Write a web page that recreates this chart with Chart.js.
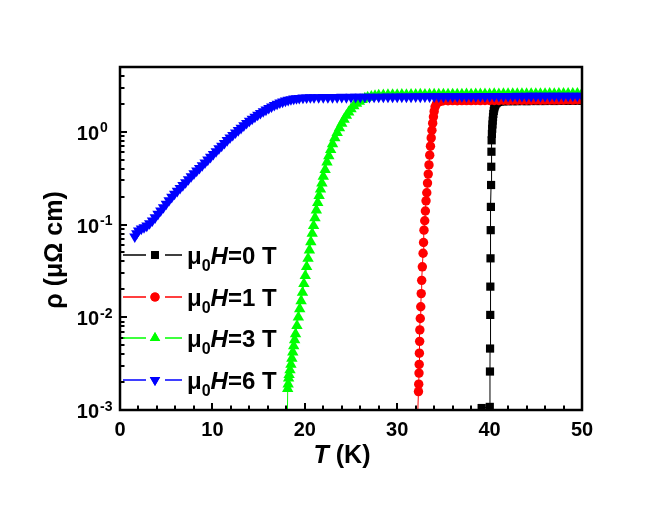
<!DOCTYPE html>
<html>
<head>
<meta charset="utf-8">
<script src="https://cdn.jsdelivr.net/npm/chart.js@4.4.1/dist/chart.umd.min.js"></script>
<style>
html,body{margin:0;padding:0;background:#fff;}
#wrap{width:648px;height:506px;position:relative;}
</style>
</head>
<body>
<div id="wrap"><canvas id="c"></canvas></div>
<script>
// ---- data: [T (K), rho (μΩ cm)] ----
const BLACK_DATA = [
[39.14,0.00105],[40.02,0.00108],[40.04,0.0026],[40.05,0.0046],[40.07,0.0106],[40.08,0.0214],[40.1,0.0432],[40.12,0.087],
[40.14,0.155],[40.16,0.267],[40.18,0.42],[40.2,0.61],[40.22,0.81],[40.25,0.95],[40.28,1.08],[40.31,1.2],[40.34,1.32],
[40.37,1.44],[40.4,1.56],[40.45,1.68],[40.5,1.79],[40.55,1.88],[40.6,1.95],[40.7,2.02],[40.8,2.07],[40.9,2.1],[41.1,2.12],
[41.5,2.13],[42,2.14],[42.5,2.14],[43,2.14],[43.5,2.15],[44,2.14],[44.5,2.15],[45,2.15],[45.5,2.15],[46,2.15],[46.5,2.16],
[47,2.15],[47.5,2.16],[48,2.16],[48.5,2.16],[49,2.16],[49.5,2.17],[50,2.17]
];
const RED_DATA = [
[32.0,0.0002],[32.3,0.00158],[32.33,0.0019],[32.36,0.0025],[32.38,0.0031],[32.4,0.0041],[32.43,0.0055],[32.45,0.0073],
[32.5,0.0097],[32.55,0.013],[32.6,0.018],[32.65,0.025],[32.72,0.035],[32.8,0.049],[32.85,0.064],[32.9,0.087],[32.98,0.11],
[33.05,0.14],[33.12,0.18],[33.2,0.22],[33.28,0.28],[33.36,0.35],[33.44,0.44],[33.52,0.56],[33.6,0.7],[33.68,0.86],
[33.76,1.04],[33.84,1.24],[33.92,1.45],[34.0,1.66],[34.1,1.86],[34.25,2.0],[34.4,2.08],[34.6,2.13],[34.8,2.15],[35,2.16],
[35.5,2.16],[36,2.17],[36.5,2.16],[37,2.17],[37.5,2.17],[38,2.17],[38.5,2.18],[39,2.17],[39.5,2.18],[40,2.18],[40.5,2.18],
[41,2.18],[41.5,2.19],[42,2.18],[42.5,2.19],[43,2.19],[43.5,2.19],[44,2.19],[44.5,2.19],[45,2.2],[45.5,2.19],[46,2.2],
[46.5,2.2],[47,2.2],[47.5,2.2],[48,2.2],[48.5,2.21],[49,2.2],[49.5,2.21],[50,2.21]
];
const GREEN_DATA = [
[18.05,0.0002],[18.15,0.0017],[18.2,0.0019],[18.25,0.0022],[18.3,0.0024],[18.4,0.0027],[18.5,0.0031],[18.6,0.0036],
[18.7,0.0042],[18.8,0.0049],[18.9,0.0057],[19.0,0.0066],[19.15,0.0081],[19.3,0.01],[19.45,0.0123],[19.6,0.015],
[19.75,0.0185],[19.9,0.023],[20.05,0.028],[20.2,0.035],[20.35,0.043],[20.5,0.053],[20.65,0.065],[20.8,0.08],[20.95,0.097],
[21.1,0.118],[21.25,0.143],[21.4,0.172],[21.55,0.205],[21.7,0.24],[21.85,0.28],[22.0,0.33],[22.2,0.39],[22.4,0.47],
[22.6,0.55],[22.8,0.64],[23.0,0.74],[23.25,0.86],[23.5,0.98],[23.75,1.1],[24.0,1.23],[24.25,1.36],[24.5,1.5],[24.75,1.63],
[25.0,1.76],[25.3,1.9],[25.6,2.02],[25.9,2.13],[26.2,2.22],[26.5,2.29],[26.8,2.35],[27.2,2.4],[27.6,2.44],[28.0,2.47],
[28.5,2.49],[29,2.5],[29.5,2.51],[30,2.51],[30.5,2.52],[31,2.51],[31.5,2.52],[32,2.52],[32.5,2.53],[33,2.52],[33.5,2.53],
[34,2.53],[34.5,2.53],[35,2.54],[35.5,2.53],[36,2.54],[36.5,2.54],[37,2.54],[37.5,2.55],[38,2.54],[38.5,2.55],[39,2.55],
[39.5,2.55],[40,2.55],[40.5,2.56],[41,2.55],[41.5,2.56],[42,2.56],[42.5,2.56],[43,2.56],[43.5,2.57],[44,2.56],[44.5,2.57],
[45,2.57],[45.5,2.57],[46,2.57],[46.5,2.58],[47,2.57],[47.5,2.58],[48,2.58],[48.5,2.58],[49,2.58],[49.5,2.59],[50,2.59]
];
const BLUE_DATA = [
[1.6,0.074],[1.8,0.08],[2.0,0.086],[2.3,0.09],[2.6,0.093],[2.9,0.097],[3.2,0.103],[3.5,0.11],[3.8,0.119],[4.1,0.13],
[4.4,0.141],[4.7,0.153],[5.0,0.167],[5.3,0.182],[5.6,0.198],[5.9,0.214],[6.2,0.23],[6.5,0.247],[6.8,0.265],[7.1,0.285],
[7.4,0.307],[7.7,0.33],[8.0,0.355],[8.3,0.38],[8.6,0.405],[8.9,0.435],[9.2,0.465],[9.5,0.5],[9.8,0.535],[10.1,0.575],
[10.4,0.615],[10.7,0.66],[11.0,0.705],[11.3,0.755],[11.6,0.81],[11.9,0.865],[12.2,0.92],[12.5,0.98],[12.8,1.04],
[13.1,1.1],[13.4,1.17],[13.7,1.24],[14.0,1.31],[14.3,1.38],[14.6,1.45],[14.9,1.52],[15.2,1.59],[15.5,1.66],[15.8,1.73],
[16.1,1.8],[16.4,1.87],[16.7,1.94],[17.0,2.0],[17.3,2.06],[17.6,2.11],[17.9,2.16],[18.2,2.2],[18.5,2.24],[18.8,2.27],
[19.1,2.29],[19.4,2.31],[19.8,2.33],[20.2,2.34],[20.6,2.35],[21,2.35],[21.5,2.35],[22,2.36],[22.5,2.35],[23,2.36],
[23.5,2.36],[24,2.37],[24.5,2.36],[25,2.37],[25.5,2.37],[26,2.37],[26.5,2.38],[27,2.37],[27.5,2.38],[28,2.38],[28.5,2.38],
[29,2.39],[29.5,2.38],[30,2.39],[30.5,2.39],[31,2.39],[31.5,2.39],[32,2.4],[32.5,2.39],[33,2.4],[33.5,2.4],[34,2.4],
[34.5,2.4],[35,2.4],[35.5,2.41],[36,2.4],[36.5,2.41],[37,2.41],[37.5,2.41],[38,2.41],[38.5,2.41],[39,2.42],[39.5,2.41],
[40,2.42],[40.5,2.42],[41,2.42],[41.5,2.42],[42,2.42],[42.5,2.42],[43,2.43],[43.5,2.42],[44,2.43],[44.5,2.43],[45,2.43],
[45.5,2.43],[46,2.43],[46.5,2.43],[47,2.44],[47.5,2.43],[48,2.44],[48.5,2.44],[49,2.44],[49.5,2.44],[50,2.44]
];
const FIELDS = ['0', '1', '3', '6'];
const X_TICKS = [0, 10, 20, 30, 40, 50];
const Y_TICKS = [0.001, 0.01, 0.1, 1];
const Y_TICK_EXP = ['-3', '-2', '-1', '0'];

const COLORS = ['#000000', '#ff0000', '#00ff00', '#0000ff'];
const STYLES = [
  {pointStyle:'rect', radius:5.8, rotation:0},
  {pointStyle:'circle', radius:4.7, rotation:0},
  {pointStyle:'triangle', radius:6.6, rotation:0},
  {pointStyle:'triangle', radius:6.4, rotation:180}
];
const LEGEND_STYLES = [
  {pointStyle:'rect', radius:5.5, rotation:0},
  {pointStyle:'circle', radius:4.6, rotation:0},
  {pointStyle:'triangle', radius:6, rotation:0},
  {pointStyle:'triangle', radius:6, rotation:180}
];
const SERIES = [BLACK_DATA, RED_DATA, GREEN_DATA, BLUE_DATA];
const ORDERS = [3, 2, 1, 0];

const FONT = '"Liberation Sans", Arial, sans-serif';

const datasets = SERIES.map((d, i) => ({
  label: 'μ0H=' + FIELDS[i] + ' T',
  data: d.map(p => ({x: p[0], y: p[1]})),
  borderColor: COLORS[i],
  backgroundColor: COLORS[i],
  borderWidth: 1,
  pointRadius: STYLES[i].radius,
  pointStyle: STYLES[i].pointStyle,
  pointRotation: STYLES[i].rotation,
  pointBorderWidth: 0,
  pointBackgroundColor: COLORS[i],
  showLine: true,
  order: ORDERS[i]
}));

function marker(ctx, style, x, y, color) {
  ctx.save();
  ctx.fillStyle = color;
  Chart.helpers.drawPoint(ctx, {pointStyle: style.pointStyle, radius: style.radius, rotation: style.rotation, borderWidth: 0}, x, y);
  ctx.fill();
  ctx.restore();
}

const deco = {
  id: 'deco',
  afterDatasetsDraw(chart) {
    const {ctx, chartArea: a, scales: {x, y}} = chart;
    ctx.save();
    // frame
    ctx.strokeStyle = '#000';
    ctx.lineWidth = 2.5;
    ctx.strokeRect(a.left, a.top, a.right - a.left, a.bottom - a.top);
    // x ticks (inward)
    ctx.lineWidth = 2;
    ctx.beginPath();
    for (let v = x.min; v <= x.max + 1e-9; v += 2) {
      const px = Math.round(x.getPixelForValue(v));
      const len = (Math.abs(v % 10) < 1e-9) ? 7 : 4.5;
      ctx.moveTo(px, a.bottom);
      ctx.lineTo(px, a.bottom - len);
    }
    // y ticks (inward), log
    for (let k = -3; k <= 0; k++) {
      for (let m = 1; m <= 9; m++) {
        const v = m * Math.pow(10, k);
        if (v > y.max * 1.0001) continue;
        const py = Math.round(y.getPixelForValue(v));
        const len = m === 1 ? 7 : 4.5;
        ctx.moveTo(a.left, py);
        ctx.lineTo(a.left + len, py);
      }
    }
    ctx.stroke();

    ctx.fillStyle = '#000';
    // x tick labels
    ctx.font = 'bold 20px ' + FONT;
    ctx.textAlign = 'center';
    ctx.textBaseline = 'alphabetic';
    X_TICKS.forEach(v => ctx.fillText(String(v), x.getPixelForValue(v), a.bottom + 26));
    // y tick labels 10^n
    Y_TICKS.forEach((v, i) => {
      const py = y.getPixelForValue(v);
      ctx.font = 'bold 20px ' + FONT;
      ctx.textAlign = 'right';
      ctx.fillText('10', a.left - 21, py + 8);
      ctx.font = 'bold 14px ' + FONT;
      ctx.textAlign = 'left';
      ctx.fillText(Y_TICK_EXP[i], a.left - 20, py + 0.5);
    });
    // x title: T (K)
    ctx.font = 'italic bold 25px ' + FONT;
    const wT = ctx.measureText('T').width;
    ctx.font = 'bold 25px ' + FONT;
    const wR = ctx.measureText(' (K)').width;
    const cx = 342, by = 463;
    const x0 = cx - (wT + wR) / 2;
    ctx.textAlign = 'left';
    ctx.font = 'italic bold 25px ' + FONT;
    ctx.fillText('T', x0, by);
    ctx.font = 'bold 25px ' + FONT;
    ctx.fillText(' (K)', x0 + wT, by);
    // y title
    ctx.save();
    ctx.translate(62, 250);
    ctx.rotate(-Math.PI / 2);
    ctx.textAlign = 'center';
    ctx.font = 'bold 25px ' + FONT;
    ctx.fillText('ρ (μΩ cm)', 0, 0);
    ctx.restore();

    // legend
    const rows = [255, 297, 338, 380];
    rows.forEach((ry, i) => {
      ctx.strokeStyle = COLORS[i];
      ctx.lineWidth = 1.5;
      ctx.beginPath();
      ctx.moveTo(a.left + 3, ry); ctx.lineTo(a.left + 26, ry);
      ctx.moveTo(a.left + 45, ry); ctx.lineTo(a.left + 62, ry);
      ctx.stroke();
      marker(ctx, LEGEND_STYLES[i], a.left + 35, ry, COLORS[i]);
      ctx.fillStyle = '#000';
      ctx.textAlign = 'left';
      let tx = a.left + 67;
      const base = ry + 9;
      ctx.font = 'bold 24px ' + FONT;
      ctx.fillText('μ', tx, base); tx += ctx.measureText('μ').width;
      ctx.font = 'bold 16px ' + FONT;
      ctx.fillText('0', tx, base + 7); tx += ctx.measureText('0').width;
      ctx.font = 'italic bold 24px ' + FONT;
      ctx.fillText('H', tx, base); tx += ctx.measureText('H').width;
      ctx.font = 'bold 24px ' + FONT;
      ctx.fillText('=' + FIELDS[i] + ' T', tx, base);
    });
    ctx.restore();
  }
};

new Chart(document.getElementById('c'), {
  type: 'scatter',
  data: {datasets},
  options: {
    responsive: true,
    maintainAspectRatio: false,
    animation: false,
    devicePixelRatio: 1,
    layout: {padding: {left: 120, top: 67, right: 66, bottom: 96}},
    plugins: {legend: {display: false}, tooltip: {enabled: false}},
    scales: {
      x: {type: 'linear', min: 0, max: 50, display: false},
      y: {type: 'logarithmic', min: 0.001, max: 5, display: false}
    }
  },
  plugins: [deco]
});
</script>
</body>
</html>
